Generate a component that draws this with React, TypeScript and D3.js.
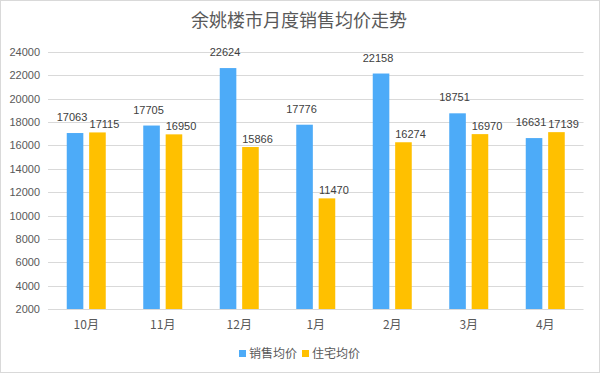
import * as d3 from "d3"
import { useEffect } from "react"

const months = ["10月", "11月", "12月", "1月", "2月", "3月", "4月"]
const salesAvg = [17063, 17705, 22624, 17776, 22158, 18751, 16631]
const homeAvg = [17115, 16950, 15866, 11470, 16274, 16970, 17139]
const seriesNames = ["销售均价", "住宅均价"]
const yTicks = [2000, 4000, 6000, 8000, 10000, 12000, 14000, 16000, 18000, 20000, 22000, 24000]

const colors = ["#4dabf8", "#ffc000"]
const W = 600
const H = 373
const FONT = "'Liberation Sans', 'Noto Sans CJK SC', sans-serif"
const CJK = "'Noto Sans CJK SC', sans-serif"

export default function App() {
  useEffect(() => {
    document.body.style.margin = "0"
  }, [])

  const x = d3.scaleBand().domain(months).range([48, 583.5])
  const y = d3.scaleLinear().domain([2000, 24000]).range([309, 52])
  const inner = d3.scaleBand().domain(["0", "1"]).range([-19.5, 19.5]).paddingInner(0.26)

  const series = [salesAvg, homeAvg]
  // data labels: blue ones sit a bit higher and left, yellow ones lower and right
  const labelDx = [-3, 7]
  const labelDy = [-12, -4]

  return (
    <svg width={W} height={H} style={{ display: "block" }}>
      <rect x={0.5} y={0.5} width={W - 1} height={H - 1} fill="#fff" stroke="#d9d9d9" />
      <text x={299} y={27} textAnchor="middle" fontSize={18} fill="#595959" fontFamily={CJK}>
        余姚楼市月度销售均价走势
      </text>
      {yTicks.map((t) => (
        <g key={t}>
          <line x1={48} x2={583.5} y1={Math.round(y(t)) + 0.5} y2={Math.round(y(t)) + 0.5} stroke="#d9d9d9" />
          <text x={40} y={y(t) + 4} textAnchor="end" fontSize={11} fill="#595959" fontFamily={FONT}>
            {t}
          </text>
        </g>
      ))}
      {series.map((vals, si) =>
        vals.map((v, i) => {
          const cx = x(months[i])! + x.bandwidth() / 2
          const bx = cx + inner(String(si))!
          return (
            <g key={`${si}-${i}`}>
              <rect x={bx} y={y(v)} width={inner.bandwidth()} height={y(2000) - y(v)} fill={colors[si]} />
              <text
                x={bx + inner.bandwidth() / 2 + labelDx[si]}
                y={y(v) + labelDy[si]}
                textAnchor="middle"
                fontSize={11}
                fill="#404040"
                fontFamily={FONT}
              >
                {v}
              </text>
            </g>
          )
        }),
      )}
      {months.map((m) => (
        <text
          key={m}
          x={x(m)! + x.bandwidth() / 2}
          y={329}
          textAnchor="middle"
          fontSize={12}
          fill="#595959"
          fontFamily={CJK}
        >
          {m}
        </text>
      ))}
      {seriesNames.map((n, i) => {
        const lx = 239 + i * 63
        return (
          <g key={n}>
            <rect x={lx} y={350} width={7} height={7} fill={colors[i]} />
            <text x={lx + 10} y={358} fontSize={12} fill="#595959" fontFamily={CJK}>
              {n}
            </text>
          </g>
        )
      })}
    </svg>
  )
}
